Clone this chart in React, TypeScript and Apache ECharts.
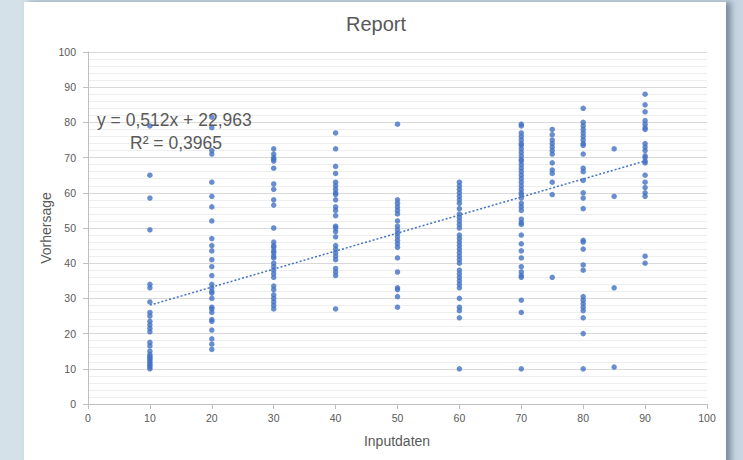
import React, { useEffect, useRef } from "react";
import * as echarts from "echarts";

const title = "Report";
const xAxisTitle = "Inputdaten";
const yAxisTitle = "Vorhersage";
const equationText = "y = 0,512x + 22,963";
const r2Text = "R² = 0,3965";
const slope = 0.512;
const intercept = 22.963;
const trendRange = [10, 90];

const inputs = [10, 20, 30, 40, 50, 60, 70, 75, 80, 85, 90];
const col10 = [79, 65, 58.5, 49.5, 34, 33, 29, 26, 25, 23.5, 22.5, 21.5, 20.5, 17.5, 16.5, 15, 14, 13.5, 13, 12.5, 12, 11.5, 11, 10.5, 10];
const col20 = [81.5, 78.5, 72, 71, 63, 59, 56, 52, 47, 45, 43.5, 41, 39, 36.5, 34, 33, 32, 31.5, 30, 27.5, 27, 26, 24, 23.5, 21, 18.5, 17, 15.5];
const col30 = [72.5, 71, 70, 69.5, 69, 67, 62.5, 61, 58, 56.5, 50, 46, 45, 44.5, 43.5, 43, 42, 41.5, 40, 39, 38, 37, 36, 33.5, 32.5, 31, 30, 29, 28, 27];
const col40 = [77, 72.5, 67.5, 65.5, 63, 62, 61, 60, 59.5, 58, 56, 55, 53.5, 50.5, 50, 49, 47.5, 45, 44, 43, 42, 41, 38.5, 37.5, 36.5, 27];
const col50 = [79.5, 58, 57, 56, 55, 54, 52, 50.5, 49.5, 48.5, 47.5, 46.5, 45.5, 44.5, 41.5, 37.5, 33, 32.5, 30.5, 27.5];
const col60 = [63, 62, 61, 60, 59, 58, 57, 55.5, 54, 53, 52, 51, 50, 48, 47, 46, 45, 44, 43, 42, 41, 40, 38, 37, 36, 35, 34, 33, 30, 27.5, 26.5, 24.5, 10];
const col70 = [79.5, 79, 77, 76, 75, 74, 73.5, 72.5, 71.5, 70.5, 69.5, 69, 68, 67, 66, 65, 64, 63, 62, 61, 60, 59.5, 58.5, 57, 56, 55, 52.5, 51.5, 51, 48, 45.5, 43.5, 41.5, 39, 37.5, 36.5, 36, 29.5, 26, 10];
const col75 = [78, 76.5, 75, 74, 73, 72, 71, 68.5, 66.5, 65.5, 63, 59.5, 36];
const col80 = [84, 80, 79, 78, 77, 76, 75, 74, 73.5, 71, 67, 66, 63.5, 60, 58.5, 55.5, 46.5, 46, 44, 39.5, 38, 30.5, 29.5, 28.5, 27.5, 26.5, 24.5, 20, 10];
const col85 = [72.5, 59, 33, 10.5];
const col90 = [88, 85, 83, 80.5, 79.5, 78.5, 78, 74, 73, 72, 70.5, 70, 69, 68.5, 65, 63, 61.5, 60, 59, 42, 40];
const columns = [col10, col20, col30, col40, col50, col60, col70, col75, col80, col85, col90];

const FONT = "Liberation Sans, Arial, sans-serif";
const TEXT = "#595959";
const BLUE = "#4472C4";

export default function App() {
  const ref = useRef<HTMLDivElement>(null);
  useEffect(() => {
    if (!ref.current) return;
    const chart = echarts.init(ref.current, undefined, { renderer: "svg" });
    const points: number[][] = [];
    inputs.forEach((x, i) => columns[i].forEach((y) => points.push([x, y])));
    const trend = trendRange.map((x) => [x, slope * x + intercept]);
    chart.setOption({
      animation: false,
      backgroundColor: "transparent",
      textStyle: { fontFamily: FONT },
      grid: { left: 88, right: 36, top: 52, bottom: 56 },
      xAxis: {
        type: "value",
        min: 0,
        max: 100,
        interval: 10,
        axisLine: { show: true, lineStyle: { color: "#bfbfbf" } },
        axisTick: { show: true, length: 5, lineStyle: { color: "#bfbfbf" } },
        axisLabel: { color: TEXT, fontSize: 10.5, margin: 8, fontFamily: FONT },
        splitLine: { show: false },
      },
      yAxis: {
        type: "value",
        min: 0,
        max: 100,
        interval: 10,
        axisLine: { show: true, lineStyle: { color: "#bfbfbf" } },
        axisTick: { show: true, length: 5, lineStyle: { color: "#bfbfbf" } },
        axisLabel: { color: TEXT, fontSize: 10.5, margin: 12, fontFamily: FONT },
        splitLine: { show: true, lineStyle: { color: "#d9d9d9" } },
        minorTick: { show: false, splitNumber: 5 },
        minorSplitLine: { show: true, lineStyle: { color: "#eeeeee" } },
      },
      graphic: [
        { type: "text", x: 376, y: 24, style: { text: title, font: `20px ${FONT}`, fill: TEXT, align: "center", verticalAlign: "middle" } },
        { type: "text", x: 397, y: 441, style: { text: xAxisTitle, font: `14px ${FONT}`, fill: TEXT, align: "center", verticalAlign: "middle" } },
        { type: "text", x: 46, y: 228, rotation: Math.PI / 2, style: { text: yAxisTitle, font: `14px ${FONT}`, fill: TEXT, align: "center", verticalAlign: "middle" } },
        { type: "text", x: 97, y: 120, z: 100, style: { text: equationText, font: `17.5px ${FONT}`, fill: TEXT, align: "left", verticalAlign: "middle" } },
        { type: "text", x: 130, y: 143, z: 100, style: { text: r2Text, font: `17.5px ${FONT}`, fill: TEXT, align: "left", verticalAlign: "middle" } },
      ],
      series: [
        {
          type: "scatter",
          data: points,
          symbol: "circle",
          symbolSize: 5.5,
          itemStyle: { color: BLUE },
          z: 2,
        },
        {
          type: "line",
          data: trend,
          symbol: "none",
          lineStyle: { color: BLUE, width: 1.5, type: [2, 2] },
          z: 3,
        },
      ],
    });
    return () => chart.dispose();
  }, []);
  return (
    <div style={{ position: "fixed", left: 0, top: 0, width: 743, height: 460, background: "#d5e1e9", overflow: "hidden" }}>
      <div style={{ position: "absolute", left: 726, top: 0, width: 17, height: 460, background: "#c6d5e1" }} />
      <div
        style={{
          position: "absolute",
          left: 24,
          top: 2,
          width: 702,
          height: 470,
          background: "#ffffff",
          boxShadow: "5px 0 6px rgba(60,80,110,0.55)",
        }}
      />
      <div ref={ref} style={{ position: "absolute", left: 0, top: 0, width: 743, height: 460 }} />
    </div>
  );
}
